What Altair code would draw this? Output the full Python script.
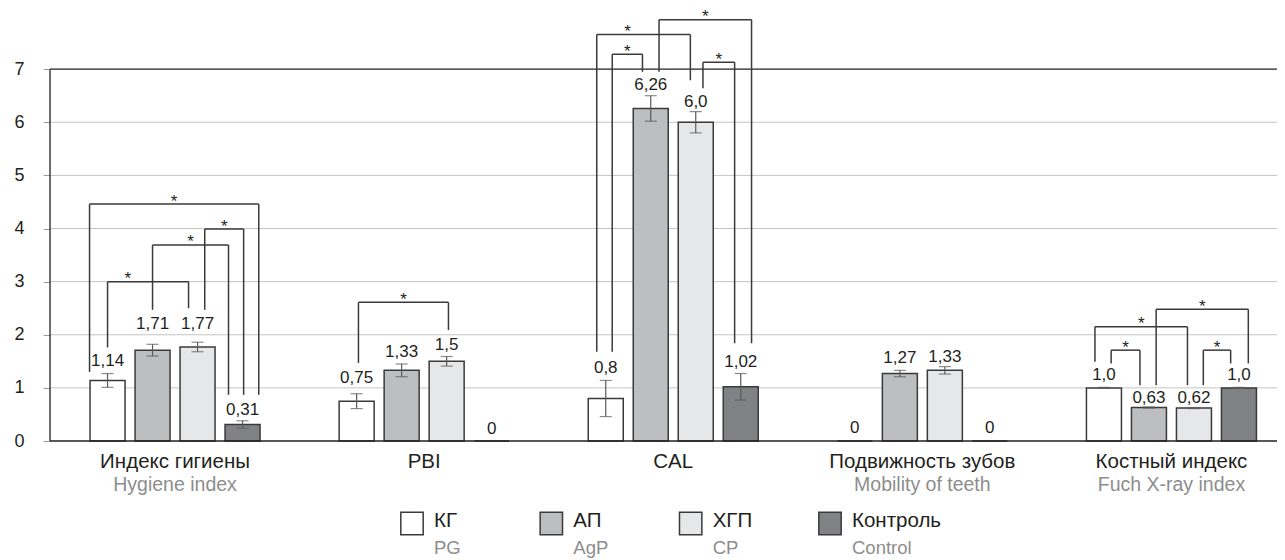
import altair as alt
import pandas as pd

# ---------------- data ----------------
groups_ru = ["Индекс гигиены", "PBI", "CAL", "Подвижность зубов", "Костный индекс"]
groups_en = ["Hygiene index", "", "", "Mobility of teeth", "Fuch X-ray index"]
series_ru = ["КГ", "АП", "ХГП", "Контроль"]
series_en = ["PG", "AgP", "CP", "Control"]

val_kg = [1.14, 0.75, 0.8, 0, 1.0]
val_ap = [1.71, 1.33, 6.26, 1.27, 0.63]
val_xgp = [1.77, 1.5, 6.0, 1.33, 0.62]
val_ctrl = [0.31, 0, 1.02, 0, 1.0]

err_kg = [0.13, 0.14, 0.34, 0, 0.01]
err_ap = [0.11, 0.12, 0.24, 0.06, 0.01]
err_xgp = [0.09, 0.09, 0.20, 0.07, 0.01]
err_ctrl = [0.07, 0, 0.25, 0, 0.01]

y_ticks = [0, 1, 2, 3, 4, 5, 6, 7]

# ---------------- layout / styling (kept apart from data) ----------------
colors = ["#ffffff", "#bcbec0", "#e6e7e8", "#808285"]
label_h_kg = [1.50, 1.19, 1.37, 0.24, 1.24]
label_h_ap = [2.20, 1.67, 6.70, 1.56, 0.81]
label_h_xgp = [2.20, 1.81, 6.39, 1.59, 0.81]
label_h_ctrl = [0.58, 0.23, 1.49, 0.24, 1.24]

# significance brackets: group, left series, left leg shift (bar widths),
# right series, right leg shift, top level, left leg bottom, right leg bottom, star position
brackets = [
    (0, 0, -0.5, 3, 0.45, 4.46, 1.30, 0.87, 0.5),
    (0, 0, 0.0, 2, -0.25, 3.00, 1.76, 2.50, 0.25),
    (0, 1, 0.0, 3, -0.39, 3.69, 2.47, 0.87, 0.5),
    (0, 2, 0.2, 3, 0.03, 3.99, 2.47, 0.87, 0.5),
    (1, 0, 0.05, 2, 0.05, 2.61, 1.47, 2.09, 0.5),
    (2, 0, -0.25, 2, -0.15, 7.65, 1.68, 6.79, 0.33),
    (2, 0, 0.18, 1, -0.23, 7.28, 1.68, 6.95, 0.5),
    (2, 1, 0.23, 3, 0.30, 7.93, 6.95, 1.84, 0.5),
    (2, 2, 0.20, 3, -0.17, 7.13, 6.64, 1.84, 0.5),
    (4, 0, -0.25, 2, -0.18, 2.15, 1.49, 1.05, 0.5),
    (4, 0, 0.20, 1, -0.25, 1.71, 1.46, 1.05, 0.5),
    (4, 1, 0.20, 3, 0.26, 2.48, 1.05, 1.46, 0.5),
    (4, 2, 0.26, 3, -0.23, 1.71, 1.05, 1.46, 0.5),
]

FONT = "Liberation Sans"
W, H = 1227, 425
PPU = 249.1                 # pixels per group
XMIN = -0.502
XMAX = XMIN + W / PPU
STEP = 45 / PPU             # bar step inside a group
BW = 36 / PPU               # bar width in group units

xs = alt.Scale(domain=[XMIN, XMAX], nice=False, zero=False, padding=0)
ys = alt.Scale(domain=[0, 8], nice=False, padding=0)

YAXIS = alt.Axis(values=y_ticks, grid=False, domain=False, ticks=True,
                 tickSize=7, tickColor="#9a9a9a", tickWidth=1,
                 labelFontSize=18, labelFont=FONT, labelColor="#231f20",
                 labelPadding=19, title=None)


def Y(field):
    return alt.Y(field, scale=ys, axis=YAXIS)


def X(field):
    return alt.X(field, scale=xs, axis=None)


vals = [val_kg, val_ap, val_xgp, val_ctrl]
errs = [err_kg, err_ap, err_xgp, err_ctrl]
lhs = [label_h_kg, label_h_ap, label_h_xgp, label_h_ctrl]

rows = []
for g in range(len(groups_ru)):
    for s in range(len(series_ru)):
        v = vals[s][g]
        e = errs[s][g]
        rows.append({
            "group": g,
            "series": series_ru[s],
            "x": g + (s - 1.5) * STEP,
            "value": v,
            "lo": v - e,
            "hi": v + e,
            "has_err": e > 0,
            "label": str(v).replace(".", ","),
            "ly": lhs[s][g],
        })
df = pd.DataFrame(rows)
df_err = df[df["has_err"]]


def bx(g, s, shift):
    return g + (s - 1.5) * STEP + shift * BW


seg = []
stars = []
for (g, sl, ol, sr, orr, top, bl, br, sf) in brackets:
    xl = bx(g, sl, ol)
    xr = bx(g, sr, orr)
    seg.append({"x": xl, "x2": xl, "y": bl, "y2": top})
    seg.append({"x": xr, "x2": xr, "y": br, "y2": top})
    seg.append({"x": xl, "x2": xr, "y": top, "y2": top})
    stars.append({"x": xl + sf * (xr - xl), "y": top})
df_seg = pd.DataFrame(seg)
df_star = pd.DataFrame(stars)

df_cat = pd.DataFrame({"g": list(range(len(groups_ru))), "ru": groups_ru, "en": groups_en})
df_leg = pd.DataFrame({"i": list(range(len(series_ru))), "series": series_ru,
                       "ru": series_ru, "en": series_en})

color_scale = alt.Scale(domain=series_ru, range=colors)

# ---------------- layers ----------------
grid = alt.Chart(pd.DataFrame({"y": y_ticks[1:-1]})).mark_rule(
    color="#c4c4c4", strokeWidth=1
).encode(y=Y("y:Q"))

dark_lines = alt.Chart(pd.DataFrame({"y": [y_ticks[0], y_ticks[-1]]})).mark_rule(
    color="#231f20", strokeWidth=1.3
).encode(y=Y("y:Q"))

left_axis = alt.Chart(pd.DataFrame({"a": [y_ticks[0]], "b": [y_ticks[-1]]})).mark_rule(
    color="#231f20", strokeWidth=1.3
).encode(x=alt.value(0), y=Y("a:Q"), y2="b:Q")

bars = alt.Chart(df).mark_bar(size=35, stroke="#3a3a3a", strokeWidth=1.5).encode(
    x=X("x:Q"),
    y=Y("value:Q"),
    color=alt.Color("series:N", scale=color_scale, legend=None),
)

err_rule = alt.Chart(df_err).mark_rule(color="#5a5a5a", strokeWidth=1.2).encode(
    x=X("x:Q"), y=Y("lo:Q"), y2="hi:Q"
)
cap_lo = alt.Chart(df_err).mark_tick(color="#5a5a5a", thickness=1.2, size=12,
                                     orient="horizontal").encode(
    x=X("x:Q"), y=Y("lo:Q")
)
cap_hi = alt.Chart(df_err).mark_tick(color="#5a5a5a", thickness=1.2, size=12,
                                     orient="horizontal").encode(
    x=X("x:Q"), y=Y("hi:Q")
)

segs = alt.Chart(df_seg).mark_rule(color="#3a3a3a", strokeWidth=1.5).encode(
    x=X("x:Q"), x2="x2:Q", y=Y("y:Q"), y2="y2:Q"
)

star_text = alt.Chart(df_star).mark_text(
    text="*", font=FONT, fontSize=17, baseline="alphabetic", dy=2.5, color="#231f20"
).encode(x=X("x:Q"), y=Y("y:Q"))

val_text = alt.Chart(df).mark_text(
    font=FONT, fontSize=17, baseline="middle", color="#231f20"
).encode(x=X("x:Q"), y=Y("ly:Q"), text="label:N")

cat_ru = alt.Chart(df_cat).mark_text(
    font=FONT, fontSize=20.5, baseline="middle", color="#231f20"
).encode(x=X("g:Q"), y=alt.value(H + 21), text="ru:N")
cat_en = alt.Chart(df_cat).mark_text(
    font=FONT, fontSize=19.5, baseline="middle", color="#8d8d8d"
).encode(x=X("g:Q"), y=alt.value(H + 44), text="en:N")

lx = alt.Scale(domain=[0, 3], range=[362, 780], padding=0)
leg_sq = alt.Chart(df_leg).mark_square(size=500, stroke="#3a3a3a", strokeWidth=1.5,
                                       opacity=1).encode(
    x=alt.X("i:Q", scale=lx, axis=None), y=alt.value(H + 82.5),
    color=alt.Color("series:N", scale=color_scale, legend=None),
)
leg_ru = alt.Chart(df_leg).mark_text(
    font=FONT, fontSize=20.5, align="left", baseline="middle", dx=22, color="#231f20"
).encode(x=alt.X("i:Q", scale=lx, axis=None), y=alt.value(H + 80), text="ru:N")
leg_en = alt.Chart(df_leg).mark_text(
    font=FONT, fontSize=18.5, align="left", baseline="middle", dx=22, color="#8d8d8d"
).encode(x=alt.X("i:Q", scale=lx, axis=None), y=alt.value(H + 107), text="en:N")

main = alt.layer(grid, bars, err_rule, cap_lo, cap_hi, dark_lines,
                 left_axis, segs, star_text, val_text, cat_ru, cat_en)
legend = alt.layer(leg_sq, leg_ru, leg_en)

chart = alt.layer(main, legend).resolve_scale(x="independent").properties(
    width=W, height=H,
    padding={"left": 42, "top": 8, "right": 0, "bottom": 118},
    autosize=alt.AutoSizeParams(type="none"),
    background="white",
).configure_view(strokeWidth=0, stroke=None)

chart.save("out.html", embed_options={"renderer": "svg", "actions": False})
